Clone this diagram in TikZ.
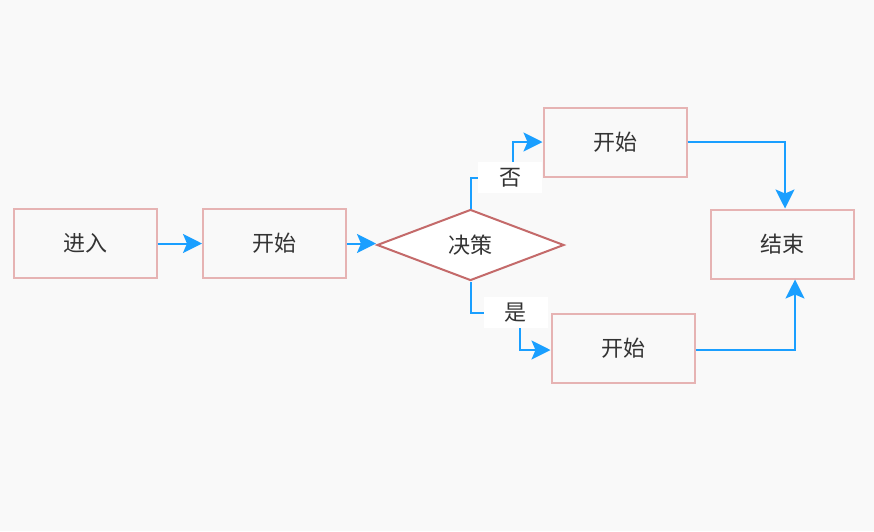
\documentclass[tikz,border=0pt]{standalone}
\usepackage{fontspec}
\setmainfont{Noto Sans CJK SC}
\usetikzlibrary{shapes.geometric,arrows.meta}
\definecolor{bg}{HTML}{F9F9F9}
\definecolor{boxline}{HTML}{E6B3B3}
\definecolor{dialine}{HTML}{C46A6A}
\definecolor{arr}{HTML}{1A9FFF}
\definecolor{txt}{HTML}{333333}
\tikzset{
  box/.style={draw=boxline, line width=2pt, minimum width=143pt, minimum height=69pt, inner sep=0pt, text=txt, font=\fontsize{22pt}{26pt}\selectfont},
  dia/.style={diamond, aspect=2.63, draw=dialine, fill=white, line width=2pt, minimum width=187pt, minimum height=71pt, inner sep=0pt, text=txt, font=\fontsize{22pt}{26pt}\selectfont},
  conn/.style={draw=arr, line width=2pt, -{Stealth[length=19pt,width=19pt,inset=4pt]}},
  lbl/.style={fill=white, text=txt, inner sep=0pt, minimum width=64pt, minimum height=31pt, font=\fontsize{22pt}{26pt}\selectfont}
}
\begin{document}
\begin{tikzpicture}[x=1pt,y=-1pt]
\fill[bg] (0,0) rectangle (874,531);
\useasboundingbox (0,0) rectangle (874,531);
\node[box] (in) at (85,243.5) {进入};
\node[box] (s1) at (274.5,243.5) {开始};
\node[dia] (d) at (470.5,245) {决策};
\node[box] (s2) at (615,142) {开始};
\node[box] (s3) at (623,348) {开始};
\node[box] (end) at (782.5,244) {结束};
\coordinate (n1) at (470.5,178);
\coordinate (n2) at (513,178);
\coordinate (n3) at (513,142);
\coordinate (y1) at (470.5,313);
\coordinate (y2) at (520,313);
\coordinate (y3) at (520,350);
\draw[conn] (in.east) -- (s1.west);
\draw[conn] (s1.east) -- (s1.east -| d.west);
\draw[conn] (d.north) -- (n1) -- (n2) -- (n3) -- (s2.west);
\draw[conn] (d.south) -- (y1) -- (y2) -- (y3) -- (s3.west |- y3);
\draw[conn] (s2.east) -| ([xshift=2.5pt]end.north);
\draw[conn] (s3.east |- 0,350) -| ([xshift=12.5pt]end.south);
\node[lbl] (no) at (510,177.5) {否};
\node[lbl] (yes) at (515.5,312.5) {是};
\end{tikzpicture}
\end{document}
